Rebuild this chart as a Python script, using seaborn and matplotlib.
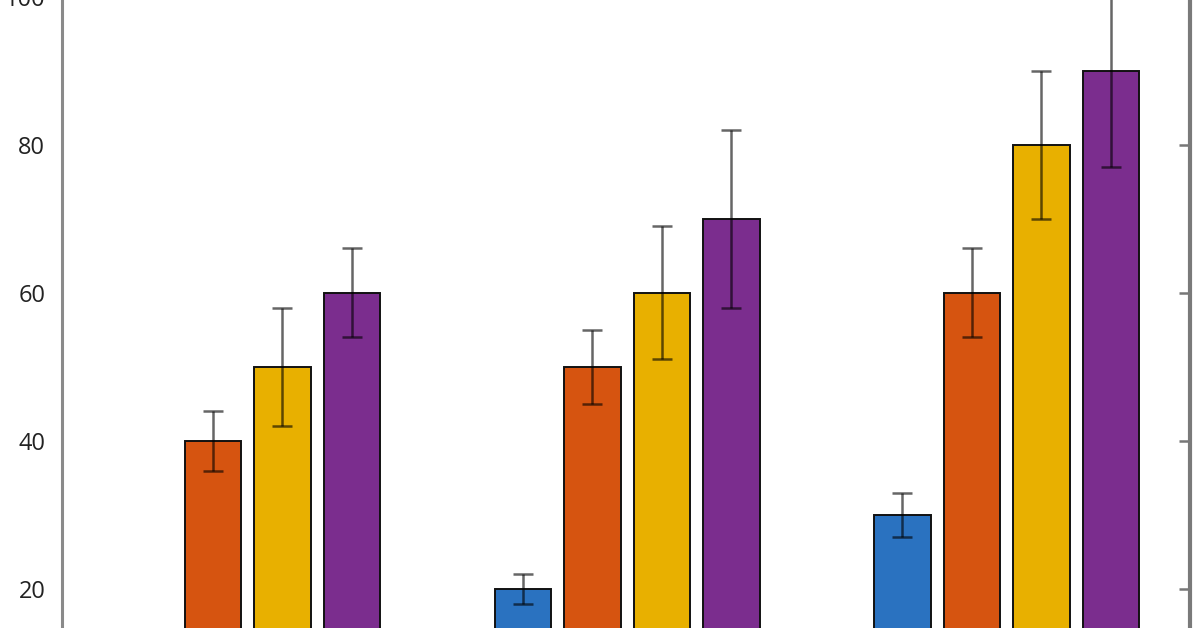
import matplotlib
matplotlib.use("Agg")
import matplotlib.pyplot as plt
import seaborn as sns
import pandas as pd

# datos (grupo 1 azul queda fuera de la vista)
groups = ["G1", "G2", "G3"]
series = ["S1", "S2", "S3", "S4"]
values = {
    "S1": [10, 20, 30],
    "S2": [40, 50, 60],
    "S3": [50, 60, 80],
    "S4": [60, 70, 90],
}
errors = {
    "S1": [1, 2, 3],
    "S2": [4, 5, 6],
    "S3": [8, 9, 10],
    "S4": [6, 12, 13],
}
colors = ["#2a72c0", "#d65410", "#e8b000", "#7b2d8e"]
y_ticks = [20, 40, 60, 80, 100]

rows = []
for s in series:
    for g, v in zip(groups, values[s]):
        rows.append({"group": g, "series": s, "value": v})
df = pd.DataFrame(rows)

sns.set_style("white")
plt.rcParams["font.family"] = ["Open Sans", "DejaVu Sans"]

fig = plt.figure(figsize=(11.96, 6.28), dpi=100)
# el eje sobresale un poco por arriba: la marca 100 queda recortada como en la imagen
ax = fig.add_axes([62 / 1196, 0, (1190 - 62) / 1196, (628 + 3.4) / 628])

sns.barplot(data=df, x="group", y="value", hue="series", hue_order=series,
            palette=colors, width=0.733, gap=0.19, edgecolor="#111111",
            linewidth=1.4, errorbar=None, legend=False, saturation=1, ax=ax)

# barras de error sobre el centro de cada barra dibujada
for s, cont in zip(series, ax.containers):
    xs = [p.get_x() + p.get_width() / 2 for p in cont.patches]
    ax.errorbar(xs, values[s], yerr=errors[s], fmt="none", ecolor="black",
                elinewidth=1.8, capsize=7.5, capthick=1.8, alpha=0.6, zorder=5)

ax.set_xlim(-0.489, 2.483)
ax.set_ylim(14.74, 100)
ax.set_yticks(y_ticks)
ax.set_xticks([])
ax.set_xlabel("")
ax.set_ylabel("")

grey = "#8a8a8a"
for side in ["top", "bottom"]:
    ax.spines[side].set_visible(False)
ax.spines["left"].set_color(grey)
ax.spines["left"].set_linewidth(2.2)
ax.spines["right"].set_color("#7a7a7a")
ax.spines["right"].set_linewidth(3)

ax.tick_params(axis="y", direction="in", length=8, width=1.8, color="#777777",
               right=True, labelright=False, pad=12, labelsize=17,
               labelcolor="#222222")

fig.savefig("out.png", dpi=100)
